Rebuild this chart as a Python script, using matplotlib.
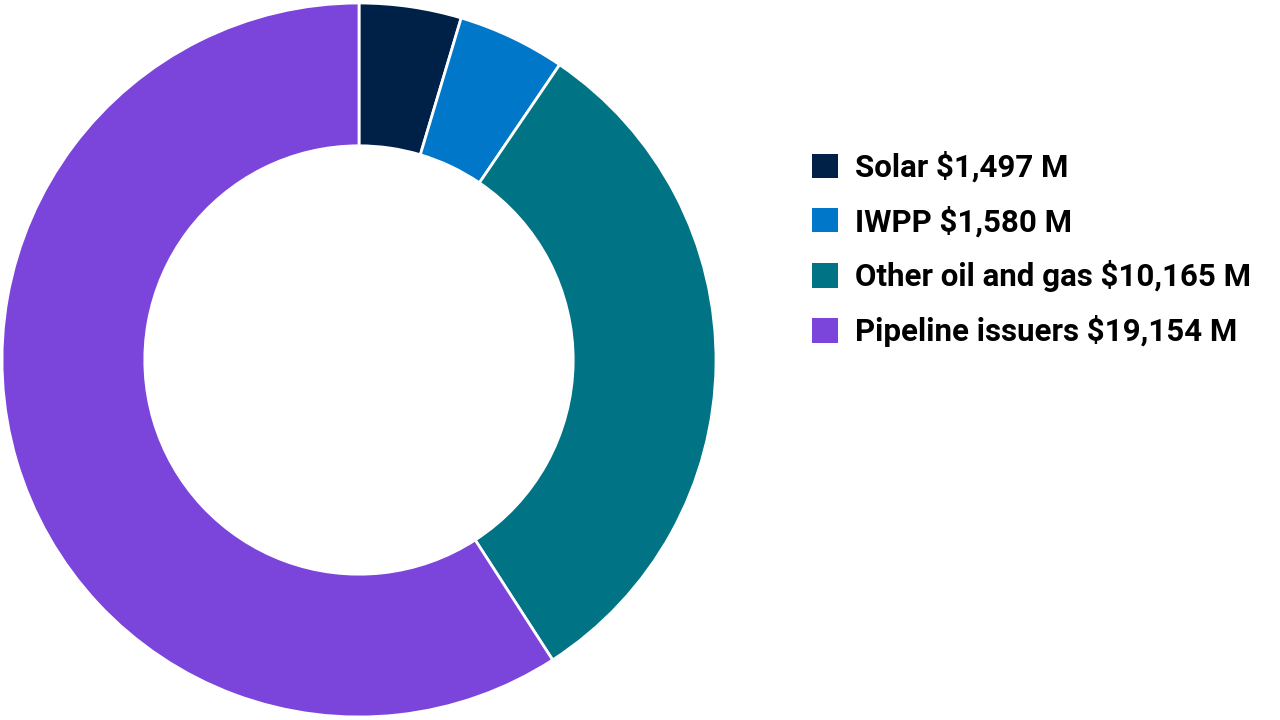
import matplotlib
matplotlib.use("Agg")
import matplotlib.pyplot as plt
from matplotlib.patches import Patch

labels = ["Solar", "IWPP", "Other oil and gas", "Pipeline issuers"]
values = [1497, 1580, 10165, 19154]
colors = ["#002147", "#0077C8", "#007385", "#7B45DB"]

plt.rcParams['font.family'] = ['Roboto', 'DejaVu Sans']

fig = plt.figure(figsize=(12.8, 7.2), dpi=100)
cx, cy, r = 359, 360, 357
ax = fig.add_axes([(cx - r) / 1280, (720 - cy - r) / 720, 2 * r / 1280, 2 * r / 720])
ax.pie(values, colors=colors, startangle=90, counterclock=False, radius=1,
       wedgeprops=dict(width=0.4, edgecolor="white", linewidth=2))
ax.set_xlim(-1, 1)
ax.set_ylim(-1, 1)
ax.set_aspect('equal')
ax.axis('off')

handles = [Patch(facecolor=c, edgecolor='none') for c in colors]
leg_labels = [f"{l} ${v:,} M" for l, v in zip(labels, values)]
fig.legend(handles, leg_labels, loc='upper left', bbox_to_anchor=(784 / 1280, 1 - 123 / 720),
           frameon=False, prop=dict(size=22.5, weight='bold'), handlelength=0.82, handleheight=0.82,
           handletextpad=0.55, labelspacing=0.74)

fig.savefig("out.png", dpi=100)
